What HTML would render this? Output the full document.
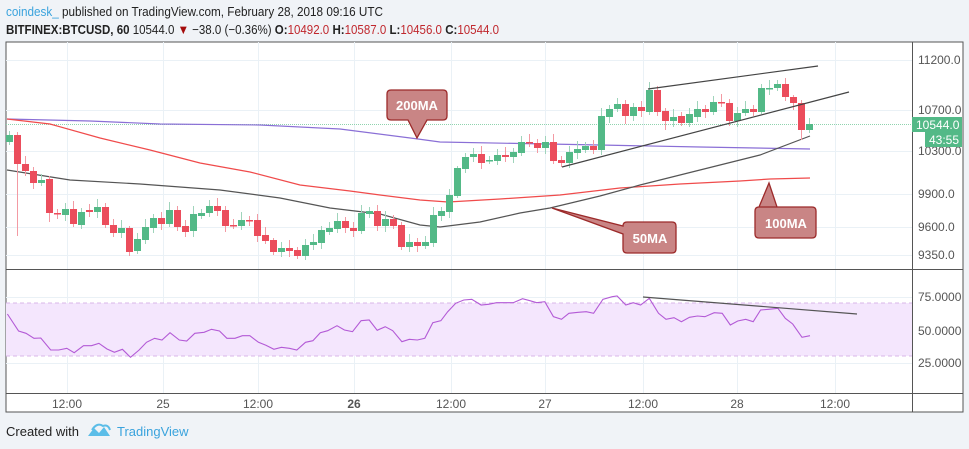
<!DOCTYPE html>
<html><head><meta charset="utf-8"><style>
html,body{margin:0;padding:0;background:#f0f3f7;width:969px;height:449px;overflow:hidden;font-family:"Liberation Sans",sans-serif}
svg{position:absolute;left:0;top:0}
</style></head><body>
<svg id="s" width="969" height="449" xmlns="http://www.w3.org/2000/svg" font-family="Liberation Sans, sans-serif">
<rect x="6" y="42" width="957" height="370" fill="#fff" stroke="#555" stroke-width="1"/>
<g id="grid" stroke="#eaf1f6" stroke-width="1"></g>
<rect x="6" y="303" width="906" height="53" fill="#f4e6fd"/>
<line x1="6" y1="303" x2="912" y2="303" stroke="#d9b7e8" stroke-dasharray="4,3"/>
<line x1="6" y1="356" x2="912" y2="356" stroke="#d9b7e8" stroke-dasharray="4,3"/>
<line x1="6" y1="124.5" x2="912" y2="124.5" stroke="#8fd3ae" stroke-dasharray="1,1"/>
<g id="ma"></g>
<g id="candles"></g>
<g id="rsi"></g>
<line x1="912.5" y1="42" x2="912.5" y2="412" stroke="#555"/>
<line x1="6" y1="269.5" x2="963" y2="269.5" stroke="#555"/>
<line x1="6" y1="393.5" x2="963" y2="393.5" stroke="#555"/>
<line x1="648" y1="89" x2="818" y2="66" stroke="#444" stroke-width="1.2"/>
<line x1="562" y1="167" x2="849" y2="92" stroke="#444" stroke-width="1.2"/>
<line x1="643" y1="297" x2="857" y2="314" stroke="#555" stroke-width="1.2"/>
<g fill="#c98585" stroke="#9c2a2a" stroke-width="1.3">
<path d="M391,90 H443 Q447,90 447,94 V116 Q447,120 443,120 H427 L417,138 L408,120 H391 Q387,120 387,116 V94 Q387,90 391,90 Z"/>
<path d="M627,222 H672 Q676,222 676,226 V249 Q676,253 672,253 H627 Q623,253 623,249 V234 L552,208 L623,226 Q623,222 627,222 Z"/>
<path d="M759,207 H812 Q816,207 816,211 V234 Q816,238 812,238 H759 Q755,238 755,234 V211 Q755,207 759,207 H777 L769,183 Z"/>
</g>
<g fill="#fff" font-size="13" font-weight="bold" text-anchor="middle">
<text x="417" y="110">200MA</text>
<text x="650" y="243">50MA</text>
<text x="786" y="228">100MA</text>
</g>
<g font-size="12" fill="#555">
<text x="918" y="64">11200.0</text>
<text x="918" y="114">10700.0</text>
<text x="918" y="155">10300.0</text>
<text x="918" y="198">9900.0</text>
<text x="918" y="231">9600.0</text>
<text x="918" y="259">9350.0</text>
<text x="918" y="301">75.0000</text>
<text x="918" y="335">50.0000</text>
<text x="918" y="367">25.0000</text>
</g>
<rect x="912" y="117" width="50" height="15" fill="#53b987"/>
<text x="916" y="129" font-size="12" fill="#fff">10544.0</text>
<rect x="925" y="132" width="37" height="15" fill="#53b987"/>
<text x="929" y="144" font-size="12" fill="#fff">43:55</text>
<g font-size="12" fill="#555" text-anchor="middle">
<text x="67" y="408">12:00</text><text x="163" y="408">25</text><text x="258" y="408">12:00</text>
<text x="354" y="408" font-weight="bold">26</text><text x="451" y="408">12:00</text><text x="545" y="408">27</text>
<text x="643" y="408">12:00</text><text x="737" y="408">28</text><text x="835" y="408">12:00</text>
</g>
<text x="6" y="16" font-size="13" textLength="377" lengthAdjust="spacingAndGlyphs"><tspan fill="#3aa3dd">coindesk_</tspan><tspan fill="#222"> published on TradingView.com, February 28, 2018 09:16 UTC</tspan></text>
<text x="6" y="34" font-size="13" fill="#222" textLength="493" lengthAdjust="spacingAndGlyphs"><tspan font-weight="bold">BITFINEX:BTCUSD, 60</tspan> 10544.0 <tspan fill="#a40b0b">▼</tspan> −38.0 (−0.36%) <tspan font-weight="bold">O:</tspan><tspan fill="#c0272d">10492.0</tspan> <tspan font-weight="bold">H:</tspan><tspan fill="#c0272d">10587.0</tspan> <tspan font-weight="bold">L:</tspan><tspan fill="#c0272d">10456.0</tspan> <tspan font-weight="bold">C:</tspan><tspan fill="#c0272d">10544.0</tspan></text>
<text x="6" y="436" font-size="13" fill="#222">Created with</text>
<path d="M88,436 L94,428 L99,433 L104,427 L110,436 Z" fill="#5bbde8"/>
<path d="M92,430 Q97,422 103,426 Q108,424 110,430" fill="none" stroke="#5bbde8" stroke-width="2"/>
<text x="117" y="436" font-size="13" fill="#3aa3dd">TradingView</text>
</svg>
<script>
var NS="http://www.w3.org/2000/svg";
function el(p,t,a){var e=document.createElementNS(NS,t);for(var k in a)e.setAttribute(k,a[k]);document.getElementById(p).appendChild(e);return e;}
[67,163,258,354,451,545,643,737,835].forEach(function(x){el("grid","line",{x1:x+.5,y1:42,x2:x+.5,y2:393});});
[60,110,151,194,227,255,297,331,363].forEach(function(y){el("grid","line",{x1:6,y1:y+.5,x2:912,y2:y+.5});});
function pl(pts,c){el("ma","polyline",{points:pts.map(function(p){return p.join(",")}).join(" "),fill:"none",stroke:c,"stroke-width":1.2});}
pl([[7,119],[90,121],[160,124],[260,125],[340,129],[418,139],[440,142],[600,145],[700,147],[810,149]],"#8a6fd6");
pl([[7,119],[50,124],[100,138],[150,150],[200,163],[250,172],[300,185],[350,191],[380,195],[420,200],[448,202],[500,199],[560,195],[620,188],[680,184],[740,181],[770,179],[810,178]],"#f04b4b");
pl([[7,170],[70,180],[140,184],[220,190],[280,198],[330,208],[380,214],[420,225],[440,227],[480,222],[520,213],[550,208],[600,196],[640,185],[700,170],[760,155],[810,136]],"#555");
var C=[[142,135],[135,164],[164,171],[171,183],[183,180],[179,213],[213,214],[215,209],[209,224],[225,212],[210,212],[212,207],[207,225],[225,233],[233,228],[228,252],[251,239],[240,227],[228,218],[218,224],[224,210],[210,227],[226,232],[231,214],[216,213],[213,206],[206,211],[210,226],[225,226],[226,220],[220,221],[220,236],[235,241],[240,252],[252,248],[248,251],[250,256],[256,245],[245,242],[243,230],[232,228],[229,221],[221,228],[228,231],[231,213],[214,211],[211,226],[226,219],[219,226],[225,247],[247,242],[242,246],[246,242],[243,215],[216,211],[212,195],[196,168],[169,157],[157,154],[154,163],[161,160],[161,155],[155,157],[157,152],[153,142],[142,143],[143,148],[148,142],[142,161],[160,163],[163,152],[153,149],[150,146],[146,150],[150,116],[117,109],[109,104],[104,116],[116,107],[107,111],[112,90],[90,112],[111,121],[121,117],[116,123],[123,114],[117,109],[109,112],[112,102],[102,103],[103,121],[121,113],[113,109],[109,112],[112,88],[89,88],[88,84],[84,97],[97,103],[103,130],[130,124]];
var W={1:[132,236],5:[176,222],15:[226,256],33:[238,255],36:[247,259],49:[222,250],56:[166,198],94:[84,114],99:[100,140],98:[95,110],77:[100,124],82:[108,130]};
C.forEach(function(c,i){var x=9+i*8,o=c[0],cl=c[1],up=cl<o,col=up?"#53b987":"#eb4d5c";
var t=Math.min(o,cl),b=Math.max(o,cl);var w=W[i]||[t-4-(i%3)*2,b+3+(i%4)];
el("candles","line",{x1:x+.5,y1:w[0],x2:x+.5,y2:w[1],stroke:up?"#9fd4bb":"#f39aa3"});
el("candles","rect",{x:x-3,y:t,width:7,height:Math.max(1.5,b-t),fill:col});});
var R=[[12,132],[30,183],[42,190],[55,205],[66,204],[82,240],[95,240],[108,235],[120,248],[135,227],[148,227],[160,220],[173,237],[185,247],[198,238],[211,262],[225,240],[237,217],[250,205],[262,210],[275,188],[290,210],[302,213],[315,190],[330,187],[342,178],[355,183],[367,205],[380,205],[392,197],[404,197],[418,217],[430,226],[443,238],[455,232],[468,235],[480,240],[494,217],[506,212],[518,188],[530,182],[545,167],[557,180],[570,185],[584,152],[597,150],[610,181],[623,170],[635,182],[650,215],[662,208],[675,210],[687,205],[700,158],[713,152],[724,125],[737,100],[750,90],[763,88],[778,105],[790,103],[803,98],[815,98],[830,98],[845,86],[857,92],[868,98],[881,95],[895,140],[908,148],[920,130],[935,127],[948,125],[960,130],[975,88],[990,80],[998,78],[1012,105],[1024,98],[1036,105],[1050,85],[1065,130],[1077,148],[1090,143],[1102,155],[1115,142],[1128,138],[1140,140],[1155,128],[1168,130],[1181,165],[1193,153],[1206,148],[1218,155],[1230,120],[1243,118],[1258,115],[1270,145],[1282,162],[1297,202],[1310,197]];
el("rsi","polyline",{points:R.map(function(p){return (p[0]/1.6172).toFixed(1)+","+(270+p[1]/3).toFixed(1)}).join(" "),fill:"none",stroke:"#b35ad6","stroke-width":1.1});
</script>
</body></html>
